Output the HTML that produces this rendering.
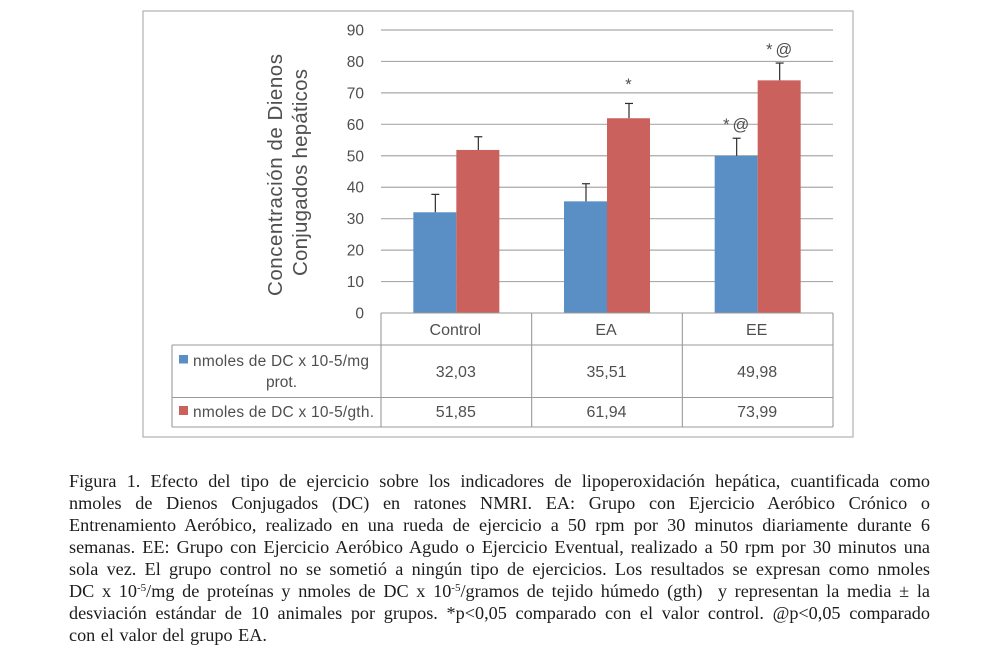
<!DOCTYPE html>
<html lang="es">
<head>
<meta charset="utf-8">
<title>Figura 1</title>
<style>
html,body{margin:0;padding:0;background:#fff;}
#page{position:relative;width:1001px;height:670px;overflow:hidden;background:#fff;}
#chart{position:absolute;left:0;top:0;filter:blur(0.3px);}
#caption{position:absolute;left:69px;top:470px;width:861px;font-family:"Liberation Serif",serif;font-size:18.2px;line-height:22px;color:#1c1c1c;filter:blur(0.25px);}
#caption div{height:22px;white-space:nowrap;text-align:justify;text-align-last:justify;}
#caption div.last{text-align-last:left;word-spacing:1px;}
#caption sup{font-size:11px;line-height:0;vertical-align:6px;}
svg text{font-family:"Liberation Sans",sans-serif;fill:#4f4f4f;}
</style>
</head>
<body>
<div id="page">
<svg id="chart" width="1001" height="450" viewBox="0 0 1001 450">
  <rect x="143" y="11" width="710" height="426" fill="#fff" stroke="#bbb" stroke-width="1.4"/>
  <g id="grid"></g>
  <g id="yticks"></g>
  <text transform="translate(282 175) rotate(-90)" text-anchor="middle" font-size="20.5" textLength="242" lengthAdjust="spacing">Concentración de Dienos</text>
  <text transform="translate(307 172.5) rotate(-90)" text-anchor="middle" font-size="20.5" textLength="207" lengthAdjust="spacing">Conjugados hepáticos</text>
  <g id="bars"></g>
  <g id="errors"></g>
  <g id="notes"></g>
  <g id="table"></g>
  <rect x="179" y="355" width="9" height="8.5" fill="#5a8fc6"/>
  <text x="193" y="366" font-size="15.5" textLength="176" lengthAdjust="spacing">nmoles de DC x 10-5/mg</text>
  <text x="281.5" y="387" font-size="15.5" text-anchor="middle">prot.</text>
  <rect x="179" y="406" width="9" height="9" fill="#cb615d"/>
  <text x="193" y="417" font-size="15.5" textLength="181" lengthAdjust="spacing">nmoles de DC x 10-5/gth.</text>
</svg>
<div id="caption">
<div>Figura 1. Efecto del tipo de ejercicio sobre los indicadores de lipoperoxidación hepática, cuantificada como</div>
<div>nmoles de Dienos Conjugados (DC) en ratones NMRI. EA: Grupo con Ejercicio Aeróbico Crónico o</div>
<div>Entrenamiento Aeróbico, realizado en una rueda de ejercicio a 50 rpm por 30 minutos diariamente durante 6</div>
<div>semanas. EE: Grupo con Ejercicio Aeróbico Agudo o Ejercicio Eventual, realizado a 50 rpm por 30 minutos una</div>
<div>sola vez. El grupo control no se sometió a ningún tipo de ejercicios. Los resultados se expresan como nmoles</div>
<div>DC x 10<sup>-5</sup>/mg de proteínas y nmoles de DC x 10<sup>-5</sup>/gramos de tejido húmedo (gth)&nbsp; y representan la media ± la</div>
<div>desviación estándar de 10 animales por grupos. *p&lt;0,05 comparado con el valor control. @p&lt;0,05 comparado</div>
<div class="last">con el valor del grupo EA.</div>
</div>
</div>
<script>
const categories = ['Control', 'EA', 'EE'];
const yTicks = [0, 10, 20, 30, 40, 50, 60, 70, 80, 90];
const seriesMg = [32.03, 35.51, 49.98];
const seriesGth = [51.85, 61.94, 73.99];
const errorsMg = [5.7, 5.6, 5.6];
const errorsGth = [4.2, 4.7, 5.5];
const printedMg = ['32,03', '35,51', '49,98'];
const printedGth = ['51,85', '61,94', '73,99'];
const marksMg = ['', '', '*@'];
const marksGth = ['', '*', '*@'];

const NS = 'http://www.w3.org/2000/svg';
const plotLeft = 381, plotRight = 833, plotBottom = 313, plotTop = 30;
const yMax = 90;
const barWidth = 43;
const blue = '#5a8fc6', red = '#cb615d', gridColor = '#a9a9a9', tableColor = '#9a9a9a';
const rowTops = [313, 345, 397.5, 427];
const tableLeft = 172;

function y(v) { return plotBottom - (v / yMax) * (plotBottom - plotTop); }
function band() { return (plotRight - plotLeft) / categories.length; }
function xCenter(i) { return plotLeft + band() * (i + 0.5); }

function make(tag, attrs, text) {
  const el = document.createElementNS(NS, tag);
  for (const k in attrs) el.setAttribute(k, attrs[k]);
  if (text !== undefined) el.textContent = text;
  return el;
}

const gridG = document.getElementById('grid');
const tickG = document.getElementById('yticks');
yTicks.forEach(function (t) {
  if (t > 0) {
    const line = make('line', { x1: plotLeft, x2: plotRight, y1: y(t), y2: y(t), stroke: gridColor, 'stroke-width': 1.2 });
    
    
    gridG.appendChild(line);
  }
  const label = make('text', { x: 364, y: y(t) + 5.5, 'text-anchor': 'end', 'font-size': 15.5 }, String(t));
  
  
  tickG.appendChild(label);
});

const barG = document.getElementById('bars');
const errG = document.getElementById('errors');
const noteG = document.getElementById('notes');

function drawSeries(values, errors, marks, color, offset) {
  values.forEach(function (v, i) {
    const left = xCenter(i) + offset * barWidth;
    const bar = make('rect', { x: left, y: y(v), width: barWidth, height: plotBottom - y(v), fill: color });
    
    
    barG.appendChild(bar);

    const cx = left + barWidth / 2 + 0.5;
    const topY = y(v + errors[i]);
    const stem = make('line', { x1: cx, x2: cx, y1: y(v), y2: topY, stroke: '#2c2c2c', 'stroke-width': 1.2 });
    
    
    errG.appendChild(stem);
    const cap = make('line', { x1: cx - 4, x2: cx + 4, y1: topY, y2: topY, stroke: '#2c2c2c', 'stroke-width': 1.2 });
    
    
    errG.appendChild(cap);

    if (marks[i]) {
      const lift = marks[i].length === 1 ? 13.5 : 8;
      const note = make('text', { x: cx + 1, y: topY - lift, 'text-anchor': 'middle', 'font-size': 16.5, 'letter-spacing': 3 }, marks[i]);
      
      
      noteG.appendChild(note);
    }
  });
}
drawSeries(seriesMg, errorsMg, marksMg, blue, -1);
drawSeries(seriesGth, errorsGth, marksGth, red, 0);

const tableG = document.getElementById('table');
function tableLine(x1, y1, x2, y2) {
  const l = make('line', { x1: x1, y1: y1, x2: x2, y2: y2, stroke: tableColor, 'stroke-width': 1.1 });
  
  
  tableG.appendChild(l);
}
tableLine(plotLeft, rowTops[0], plotRight, rowTops[0]);
tableLine(tableLeft, rowTops[1], plotRight, rowTops[1]);
tableLine(tableLeft, rowTops[2], plotRight, rowTops[2]);
tableLine(tableLeft, rowTops[3], plotRight, rowTops[3]);
tableLine(tableLeft, rowTops[1], tableLeft, rowTops[3]);
for (let i = 0; i <= categories.length; i++) {
  const vx = plotLeft + band() * i;
  tableLine(vx, rowTops[0], vx, rowTops[3]);
}
categories.forEach(function (c, i) {
  const head = make('text', { x: xCenter(i) - 1, y: 335, 'text-anchor': 'middle', 'font-size': 16 }, c);
  
  
  tableG.appendChild(head);
  const v1 = make('text', { x: xCenter(i) - 0.5, y: 377, 'text-anchor': 'middle', 'font-size': 16 }, printedMg[i]);
  
  
  tableG.appendChild(v1);
  const v2 = make('text', { x: xCenter(i) - 0.5, y: 417, 'text-anchor': 'middle', 'font-size': 16 }, printedGth[i]);
  
  
  tableG.appendChild(v2);
});
</script>
</body>
</html>
